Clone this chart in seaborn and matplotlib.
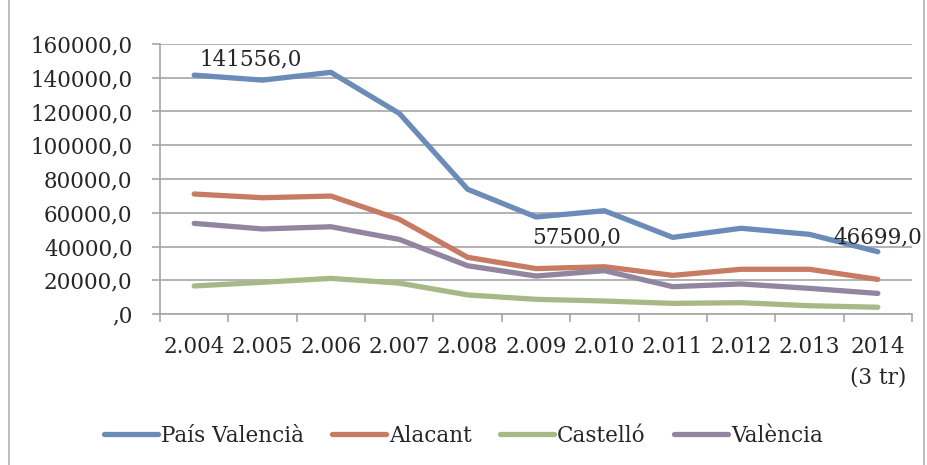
import matplotlib
matplotlib.use("Agg")
import matplotlib.pyplot as plt
from matplotlib.lines import Line2D
import pandas as pd
import seaborn as sns

# data
years = ["2.004", "2.005", "2.006", "2.007", "2.008", "2.009", "2.010",
         "2.011", "2.012", "2.013", "2014\n(3 tr)"]
pais_valencia = [141556, 138600, 143200, 118900, 73900, 57500, 61200,
                 45400, 50800, 47200, 36900]
alacant = [71100, 68900, 69900, 56100, 33600, 26900, 28000,
           22900, 26500, 26500, 20500]
castello = [16600, 18800, 21100, 18300, 11300, 8700, 7700,
            6300, 6700, 4900, 4000]
valencia = [53700, 50400, 51700, 44200, 28600, 22500, 25700,
            16200, 17800, 15200, 12200]
series_names = ["País Valencià", "Alacant", "Castelló", "València"]
colors = ["#6b8bb8", "#c67b62", "#a8b886", "#9285a0"]
yticks = [0, 20000, 40000, 60000, 80000, 100000, 120000, 140000, 160000]

df = pd.DataFrame({
    "year": years * 4,
    "value": pais_valencia + alacant + castello + valencia,
    "serie": [s for s in series_names for _ in years],
})

sns.set_style("white")
plt.rcParams["font.family"] = ["DejaVu Serif"]

fig = plt.figure(figsize=(9.27, 4.65), dpi=100)
ax = fig.add_axes([160 / 927, 1 - 314 / 465, 752 / 927, 270 / 465])

sns.lineplot(data=df, x="year", y="value", hue="serie", palette=colors,
             linewidth=3.8, ax=ax, legend=False, sort=False)
for ln in ax.get_lines():
    ln.set_solid_capstyle("round")

ax.set_xlim(-0.5, len(years) - 0.5)
ax.set_ylim(0, 160000)
ax.set_yticks(yticks)
ax.set_yticklabels([f"{v:.1f}".replace(".", ",") if v else ",0" for v in yticks])
ax.set_xticks(range(len(years)))
ax.set_xticklabels(years)
for lbl in ax.get_xticklabels():
    lbl.set_linespacing(1.5)
ax.set_xticks([i - 0.5 for i in range(len(years) + 1)], minor=True)
ax.set_xlabel("")
ax.set_ylabel("")

ax.grid(axis="y", color="#a6a6a6", linewidth=1.2)
ax.grid(axis="x", visible=False)
for side in ["top", "right"]:
    ax.spines[side].set_visible(False)
for side in ["left", "bottom"]:
    ax.spines[side].set_color("#a6a6a6")
    ax.spines[side].set_linewidth(1.2)

ax.tick_params(axis="y", length=5.8, width=1.2, color="#a6a6a6", pad=14,
               labelsize=15.5, left=True)
ax.tick_params(axis="x", which="major", length=0, pad=16, labelsize=15.5)
ax.tick_params(axis="x", which="minor", length=5.8, width=1.2,
               color="#a6a6a6", bottom=True)

# data labels
ax.annotate("141556,0", (0, pais_valencia[0]), xytext=(4, 11.5),
            textcoords="offset points", ha="left", va="center", fontsize=15.5)
ax.annotate("57500,0", (5, pais_valencia[5]), xytext=(-3, -15),
            textcoords="offset points", ha="left", va="center", fontsize=15.5)
ax.annotate("46699,0", (10, pais_valencia[10]), xytext=(0, 10.5),
            textcoords="offset points", ha="center", va="center", fontsize=15.5)

handles = [Line2D([], [], color=c, linewidth=3.8, solid_capstyle="round")
           for c in colors]
fig.legend(handles, series_names, loc="center", bbox_to_anchor=(0.5, 1 - 436 / 465),
           ncol=4, frameon=False, fontsize=15.5, handlelength=2.5,
           handletextpad=0.15, columnspacing=1.3)

# chart border (left and right edges visible)
fig.add_artist(Line2D([9 / 927, 9 / 927], [0, 1], color="#b0b0b0", linewidth=1.2))
fig.add_artist(Line2D([924 / 927, 924 / 927], [0, 1], color="#b0b0b0", linewidth=1.2))

fig.savefig("out.png", dpi=100)
